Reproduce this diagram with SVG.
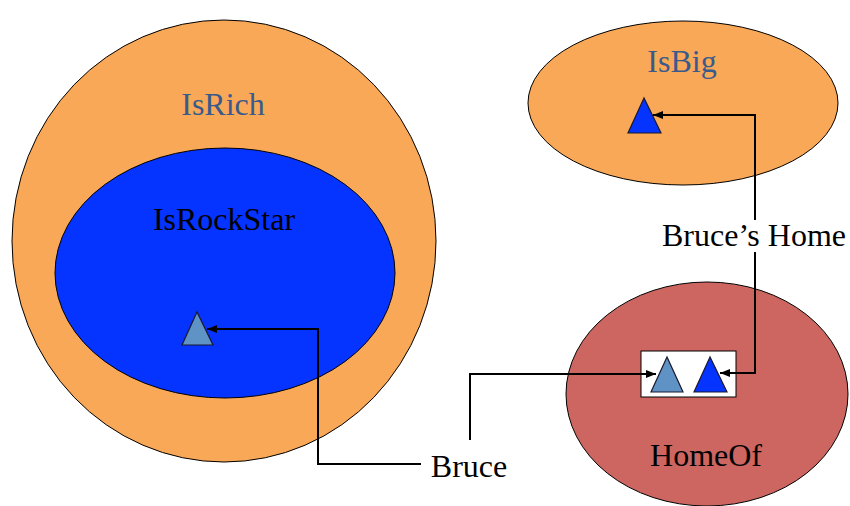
<svg xmlns="http://www.w3.org/2000/svg" width="850" height="506" viewBox="0 0 850 506">
<defs>
<style>
.set{stroke:#000;stroke-width:1}
.lbl{font-size:32px;text-anchor:middle}
.tri{stroke:#1a1a2e;stroke-width:1.2}
.conn{fill:none;stroke:#000;stroke-width:2}
</style>
<marker id="ah" markerWidth="10" markerHeight="8" refX="10" refY="4" orient="auto" markerUnits="userSpaceOnUse">
<path d="M0,0 L10,4 L0,8 Z" fill="#000"/>
</marker>
</defs>
<rect width="850" height="506" fill="#fff"/>
<g font-family="Liberation Serif">
<g id="IsRich">
<ellipse class="set" cx="224" cy="241" rx="212" ry="221" fill="#F9A857"/>
<text class="lbl" x="223" y="115" fill="#3A5A8C">IsRich</text>
</g>
<g id="IsRockStar">
<ellipse class="set" cx="225" cy="273" rx="170" ry="125" fill="#0533FF"/>
<text class="lbl" x="224" y="230" fill="#000">IsRockStar</text>
<polygon class="tri" points="197,312 182,345 213,345" fill="#5F93C6"/>
</g>
<g id="IsBig">
<ellipse class="set" cx="683" cy="103" rx="155" ry="82" fill="#F9A857"/>
<text class="lbl" x="682" y="72" fill="#3A5A8C">IsBig</text>
<polygon class="tri" points="644,98 628,133 661,133" fill="#0533FF"/>
</g>
<g id="HomeOf">
<ellipse class="set" cx="707" cy="394" rx="141" ry="112" fill="#CD6661"/>
<text class="lbl" x="706" y="466" fill="#000">HomeOf</text>
<rect x="641" y="351" width="95" height="46" fill="#fff" stroke="#000" stroke-width="1"/>
<polygon class="tri" points="667,357 651,392 683,392" fill="#5F93C6"/>
<polygon class="tri" points="710,357 694,392 727,392" fill="#0533FF"/>
</g>
<g id="Bruce">
<text class="lbl" x="469" y="477" fill="#000">Bruce</text>
</g>
<g id="BrucesHome">
<text class="lbl" x="754" y="246" fill="#000">Bruce’s Home</text>
</g>
</g>
<g id="connectors">
<polyline class="conn" points="421,464 318,464 318,329 207,329" marker-end="url(#ah)"/>
<polyline class="conn" points="470,440 470,374 656,374" marker-end="url(#ah)"/>
<polyline class="conn" points="755,252 755,373 720,373" marker-end="url(#ah)"/>
<polyline class="conn" points="755,220 755,115 653,115" marker-end="url(#ah)"/>
</g>
</svg>
